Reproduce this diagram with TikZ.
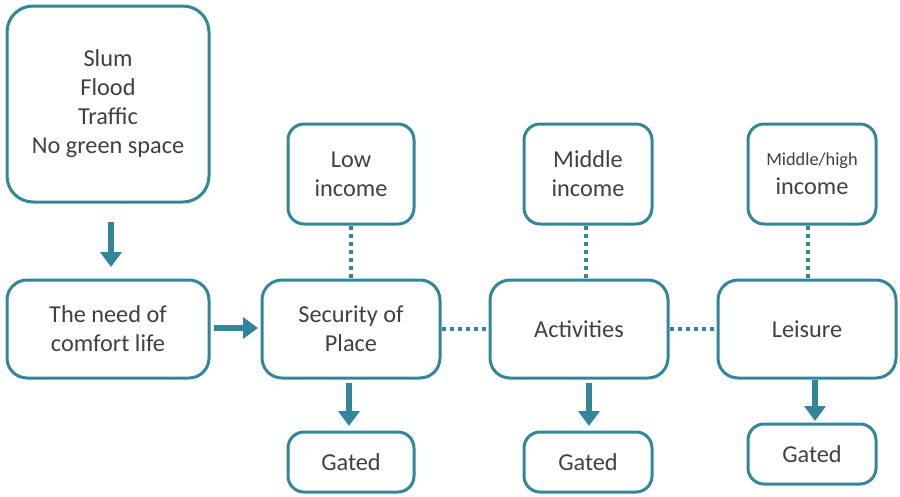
\documentclass[tikz,border=0pt]{standalone}
\usepackage{fontspec}
\setmainfont{Carlito}
\usetikzlibrary{arrows.meta}
\definecolor{teal}{HTML}{31869A}
\definecolor{txt}{HTML}{404040}
\begin{document}
\begin{tikzpicture}[x=1pt,y=-1pt,
  box/.style={draw=teal,line width=3pt,rounded corners=20pt,fill=white,text=txt,
    align=center,font=\fontsize{24.3}{29}\selectfont,inner sep=0pt},
  sbox/.style={box,rounded corners=16pt},
  dots/.style={draw=teal,line width=4pt,dash pattern=on 4pt off 4pt},
  arr/.style={draw=teal,line width=6.5pt,-{Triangle[width=21pt,length=15pt]}}]
\useasboundingbox (0,0) rectangle (900,496);
\node[box,rounded corners=26pt,minimum width=202pt,minimum height=196pt] (prob) at (108,104) {Slum\\Flood\\Traffic\\No green space};
\node[box,minimum width=202pt,minimum height=98pt] (need) at (108,329) {The need of\\comfort life};
\node[box,minimum width=178pt,minimum height=98pt] (sec) at (351,329) {Security of\\Place};
\node[box,minimum width=178pt,minimum height=98pt] (act) at (579,329) {Activities};
\node[box,minimum width=178pt,minimum height=98pt] (lei) at (807,329) {Leisure};
\node[sbox,minimum width=126pt,minimum height=100pt] (low) at (351,174) {Low\\income};
\node[sbox,minimum width=128pt,minimum height=100pt] (mid) at (588,174) {Middle\\income};
\node[sbox,minimum width=128pt,minimum height=100pt] (high) at (812,174) {{\fontsize{18.3}{22}\selectfont Middle/high}\\income};
\node[sbox,minimum width=126pt,minimum height=60pt] (g1) at (351,462) {Gated};
\node[sbox,minimum width=128pt,minimum height=60pt] (g2) at (588,462) {Gated};
\node[sbox,minimum width=128pt,minimum height=60pt] (g3) at (812,454) {Gated};
% dotted links
\draw[dots] (low.south) -- (sec.north);
\draw[dots] ([xshift=-2pt]mid.south) -- ([xshift=7pt]act.north);
\draw[dots] ([xshift=-4pt]high.south) -- ([xshift=1pt]lei.north);
\draw[dots] (sec.east) -- (act.west);
\draw[dots] (act.east) -- (lei.west);
% arrows
\coordinate (a1s) at (111,222); \coordinate (a1e) at (111,267);
\draw[arr] (a1s) -- (a1e);
\coordinate (a2s) at (214,328); \coordinate (a2e) at (258,328);
\draw[arr] (a2s) -- (a2e);
\coordinate (a3s) at (349,383); \coordinate (a3e) at (349,426);
\draw[arr] (a3s) -- (a3e);
\coordinate (a4s) at (589,383); \coordinate (a4e) at (589,426);
\draw[arr] (a4s) -- (a4e);
\coordinate (a5s) at (815,380); \coordinate (a5e) at (815,421);
\draw[arr] (a5s) -- (a5e);
\end{tikzpicture}
\end{document}
